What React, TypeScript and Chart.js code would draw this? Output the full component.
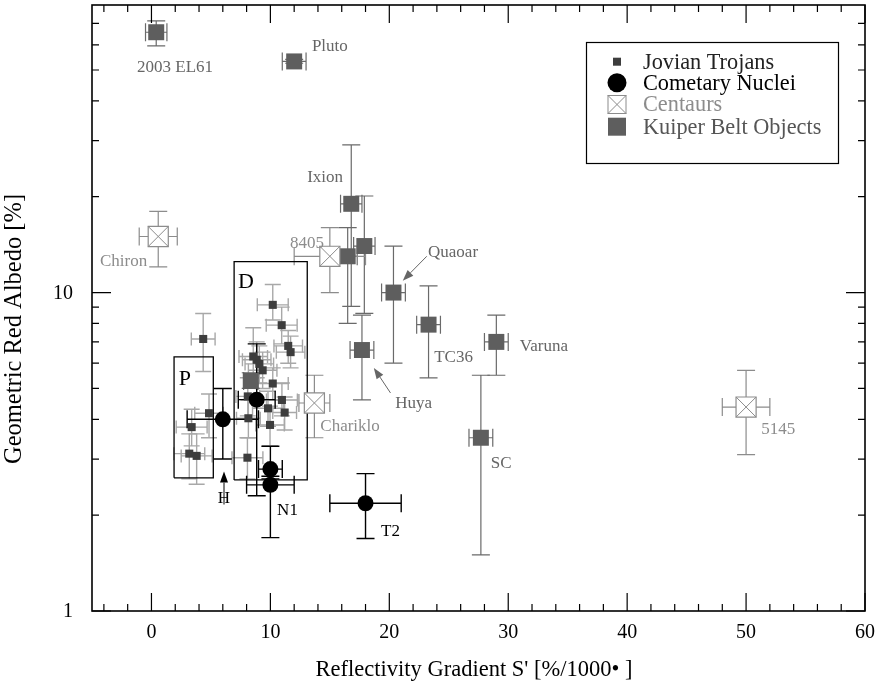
import React, { useEffect, useRef } from 'react';
import { Chart, registerables } from 'chart.js';
Chart.register(...registerables);

const FONT = '"Liberation Serif", "Times New Roman", Times, serif';

// ---------- Jovian Trojans ----------
const trojanX = [4.35, 10.2, 10.95, 11.5, 11.7, 8.56, 8.85, 9.07, 9.35, 8.1, 10.2, 10.97, 9.8, 11.2, 8.15, 9.97, 8.07, 4.84, 3.38, 3.18, 3.8];
const trojanY = [7.15, 9.15, 7.9, 6.8, 6.5, 6.3, 6.15, 5.97, 5.7, 4.72, 5.18, 4.6, 4.33, 4.2, 4.03, 3.84, 3.03, 4.18, 3.78, 3.12, 3.07];
const trojanXErr = [1.0, 1.3, 1.3, 1.2, 1.2, 1.2, 1.2, 1.2, 1.2, 1.0, 1.3, 1.3, 1.3, 1.0, 1.0, 1.2, 1.3, 1.2, 1.3, 1.3, 1.3];
const trojanYLo = [5.65, 8.2, 6.9, 6.0, 5.8, 5.4, 5.4, 5.2, 5.0, 4.1, 4.6, 4.1, 3.8, 3.7, 3.5, 3.3, 2.6, 3.5, 3.3, 2.6, 2.5];
const trojanYHi = [8.6, 10.6, 9.0, 7.6, 7.3, 7.75, 7.0, 6.8, 6.5, 5.4, 5.8, 5.2, 4.9, 4.7, 4.6, 4.4, 3.5, 4.8, 4.3, 3.6, 3.6];

// ---------- Kuiper Belt Objects ----------
const kboNames = ['2003 EL61', 'Pluto', 'Ixion', '', '', 'Quaoar', 'Huya', 'TC36', 'Varuna', 'SC', ''];
const kboX = [0.4, 12.0, 16.8, 16.5, 17.9, 20.35, 17.7, 23.3, 29.0, 27.7, 8.35];
const kboY = [65.7, 53.2, 19.0, 13.0, 14.0, 10.0, 6.6, 7.93, 7.0, 3.5, 5.28];
const kboXErr = [0.9, 1.0, 0.9, 0.8, 0.9, 1.0, 1.0, 1.0, 1.0, 1.0, 0.6];
const kboYLo = [59.5, 52.5, 9.05, 8.0, 8.6, 6.0, 4.6, 5.4, 5.5, 1.5, 5.0];
const kboYHi = [71.3, 54.0, 29.1, 16.0, 20.1, 14.0, 8.5, 10.5, 8.5, 5.5, 5.6];

// ---------- Centaurs ----------
const cenNames = ['Chiron', '8405', 'Chariklo', '5145'];
const cenX = [0.57, 15.0, 13.7, 50.0];
const cenY = [15.0, 13.0, 4.5, 4.37];
const cenXErr = [1.6, 3.0, 1.3, 2.0];
const cenYLo = [12.05, 10.0, 3.5, 3.1];
const cenYHi = [18.0, 16.0, 5.5, 5.7];

// ---------- Cometary Nuclei ----------
const cometNames = ['H', '', '', 'N1', 'T2'];
const cometX = [6.0, 8.85, 10.0, 10.0, 18.0];
const cometY = [4.0, 4.61, 2.79, 2.49, 2.18];
const cometXErr = [3.0, 1.55, 1.0, 2.0, 3.0];
const cometYLo = [3.0, 2.3, 2.6, 1.7, 1.69];
const cometYHi = [5.0, 6.9, 3.29, 2.65, 2.7];

// ---------- Boxes (P and D) ----------
const boxPX = [1.9, 5.2];
const boxPY = [2.62, 6.28];
const boxDX = [6.95, 13.1];
const boxDY = [2.58, 12.5];

// ---------- Annotations ----------
const labelText = ['2003 EL61', 'Pluto', 'Ixion', '8405', 'Chiron', 'Quaoar', 'TC36', 'Varuna', 'Huya', 'Chariklo', 'SC', 'T2', 'N1', 'H', '5145', 'P', 'D'];
const labelX = [1.98, 15.0, 14.6, 13.08, -2.35, 25.36, 25.4, 33.0, 22.05, 16.7, 29.4, 20.1, 11.44, 6.1, 52.7, 2.8, 7.95];
const labelY = [51.0, 59.4, 23.0, 14.26, 12.5, 13.4, 6.23, 6.77, 4.47, 3.79, 2.91, 1.78, 2.07, 2.26, 3.71, 5.33, 10.75];
const labelGroup = ['kbo', 'kbo', 'kbo', 'cen', 'cen', 'kbo', 'kbo', 'kbo', 'kbo', 'cen', 'kbo', 'com', 'com', 'com', 'cen', 'box', 'box'];

const arrowFromX = [23.15, 20.1, 6.1];
const arrowFromY = [13.0, 4.84, 2.16];
const arrowToX = [21.13, 18.7, 6.1];
const arrowToY = [10.9, 5.8, 2.74];
const arrowGroup = ['kbo', 'kbo', 'com'];

// ---------- Axes ----------
const xMajorTicks = [0, 10, 20, 30, 40, 50, 60];
const xMinorTicks = [-4, -2, 2, 4, 6, 8, 12, 14, 16, 18, 22, 24, 26, 28, 32, 34, 36, 38, 42, 44, 46, 48, 52, 54, 56, 58];
const yMajorTicks = [1, 10];
const yMinorTicks = [2, 3, 4, 5, 6, 7, 8, 9, 20, 30, 40, 50, 60, 70];

const legendLabels = ['Jovian Trojans', 'Cometary Nuclei', 'Centaurs', 'Kuiper Belt Objects'];

const pts = (xs: number[], ys: number[]) => xs.map((x, i) => ({ x, y: ys[i] }));
const errs = (xe: number[], lo: number[], hi: number[]) => xe.map((e, i) => ({ xm: e, lo: lo[i], hi: hi[i] }));
const boxPts = (bx: number[], by: number[]) => [
  { x: bx[0], y: by[0] }, { x: bx[1], y: by[0] }, { x: bx[1], y: by[1] }, { x: bx[0], y: by[1] }, { x: bx[0], y: by[0] },
];

const errorBarPlugin = {
  id: 'errbars',
  beforeDatasetsDraw(chart: any) {
    const { ctx, scales: { x, y } } = chart;
    ctx.save();
    const sets = [...chart.data.datasets].sort((a: any, b: any) => (b.order ?? 0) - (a.order ?? 0));
    sets.forEach((ds: any) => {
      if (!ds.errors) return;
      ctx.strokeStyle = ds.errorColor;
      ctx.lineWidth = ds.errorWidth;
      const cv = ds.capV, ch = ds.capH;
      ds.data.forEach((p: any, i: number) => {
        const e = ds.errors[i];
        const px = x.getPixelForValue(p.x), py = y.getPixelForValue(p.y);
        const xl = x.getPixelForValue(p.x - e.xm), xr = x.getPixelForValue(p.x + e.xm);
        const yl = y.getPixelForValue(e.lo), yh = y.getPixelForValue(e.hi);
        ctx.beginPath();
        ctx.moveTo(xl, py); ctx.lineTo(xr, py);
        ctx.moveTo(px, yl); ctx.lineTo(px, yh);
        ctx.moveTo(xl, py - ch); ctx.lineTo(xl, py + ch);
        ctx.moveTo(xr, py - ch); ctx.lineTo(xr, py + ch);
        ctx.moveTo(px - cv, yl); ctx.lineTo(px + cv, yl);
        ctx.moveTo(px - cv, yh); ctx.lineTo(px + cv, yh);
        ctx.stroke();
      });
    });
    ctx.restore();
  },
};

const labelColor: Record<string, string> = { kbo: '#666666', cen: '#8c8c8c', com: '#000000', box: '#000000' };

const annotationPlugin = {
  id: 'annot',
  afterDatasetsDraw(chart: any) {
    const { ctx, scales: { x, y } } = chart;
    ctx.save();
    ctx.textAlign = 'center';
    ctx.textBaseline = 'middle';
    labelText.forEach((t, i) => {
      const g = labelGroup[i];
      ctx.fillStyle = labelColor[g];
      ctx.font = `${g === 'box' ? 22 : 17}px ${FONT}`;
      ctx.fillText(t, x.getPixelForValue(labelX[i]), y.getPixelForValue(labelY[i]));
    });
    arrowFromX.forEach((fx, i) => {
      const x0 = x.getPixelForValue(fx), y0 = y.getPixelForValue(arrowFromY[i]);
      const x1 = x.getPixelForValue(arrowToX[i]), y1 = y.getPixelForValue(arrowToY[i]);
      const col = labelColor[arrowGroup[i]];
      const ang = Math.atan2(y1 - y0, x1 - x0);
      const hl = 11, hw = 4;
      const bx = x1 - hl * Math.cos(ang), by = y1 - hl * Math.sin(ang);
      ctx.strokeStyle = col; ctx.fillStyle = col; ctx.lineWidth = 1;
      ctx.beginPath(); ctx.moveTo(x0, y0); ctx.lineTo(bx, by); ctx.stroke();
      ctx.beginPath();
      ctx.moveTo(x1, y1);
      ctx.lineTo(bx + hw * Math.sin(ang), by - hw * Math.cos(ang));
      ctx.lineTo(bx - hw * Math.sin(ang), by + hw * Math.cos(ang));
      ctx.closePath(); ctx.fill();
    });
    ctx.restore();
  },
};

const framePlugin = {
  id: 'frame',
  afterDraw(chart: any) {
    const { ctx, chartArea: { left, right, top, bottom }, scales: { x, y } } = chart;
    ctx.save();
    ctx.strokeStyle = '#000';
    ctx.lineWidth = 1.2;
    ctx.beginPath();
    const xt = (v: number, len: number) => {
      const px = x.getPixelForValue(v);
      ctx.moveTo(px, bottom); ctx.lineTo(px, bottom - len);
      ctx.moveTo(px, top); ctx.lineTo(px, top + len);
    };
    const yt = (v: number, len: number) => {
      const py = y.getPixelForValue(v);
      ctx.moveTo(left, py); ctx.lineTo(left + len, py);
      ctx.moveTo(right, py); ctx.lineTo(right - len, py);
    };
    xMajorTicks.forEach((v) => xt(v, 18));
    xMinorTicks.forEach((v) => xt(v, 7));
    yMajorTicks.forEach((v) => yt(v, 19));
    yMinorTicks.forEach((v) => yt(v, 7));
    ctx.stroke();
    ctx.lineWidth = 1.6;
    ctx.strokeRect(left, top, right - left, bottom - top);

    // tick labels
    ctx.fillStyle = '#000';
    ctx.font = `20px ${FONT}`;
    ctx.textAlign = 'center';
    ctx.textBaseline = 'middle';
    xMajorTicks.forEach((v) => ctx.fillText(String(v), x.getPixelForValue(v), bottom + 22));
    ctx.textAlign = 'right';
    yMajorTicks.forEach((v) => ctx.fillText(String(v), left - 19, y.getPixelForValue(v) + 1));

    // axis titles
    ctx.font = `22.5px ${FONT}`;
    ctx.textAlign = 'center';
    ctx.fillText("Reflectivity Gradient S' [%/1000\u2022 ]", 474, 670);
    ctx.save();
    ctx.font = `24.5px ${FONT}`;
    ctx.translate(15, 329);
    ctx.rotate(-Math.PI / 2);
    ctx.fillText('Geometric Red Albedo [%]', 0, 0);
    ctx.restore();

    // legend
    const lx = 586, ly = 42, lw = 252, lh = 121;
    ctx.fillStyle = '#fff';
    ctx.fillRect(lx, ly, lw, lh);
    ctx.lineWidth = 1.2;
    ctx.strokeStyle = '#000';
    ctx.strokeRect(lx + 0.5, ly + 0.5, lw, lh);
    const rows = [61.7, 82.7, 104.5, 126.7];
    const mx = 617, tx = 643;
    const textCols = ['#222222', '#000000', '#8c8c8c', '#555555'];
    ctx.font = `22.3px ${FONT}`;
    ctx.textAlign = 'left';
    legendLabels.forEach((t, i) => {
      const ry = rows[i];
      if (i === 0) { ctx.fillStyle = '#3d3d3d'; ctx.fillRect(mx - 4, ry - 4, 8, 8); }
      if (i === 1) { ctx.fillStyle = '#000'; ctx.beginPath(); ctx.arc(mx, ry, 9.5, 0, Math.PI * 2); ctx.fill(); }
      if (i === 2) {
        ctx.strokeStyle = '#8c8c8c'; ctx.lineWidth = 1;
        ctx.strokeRect(mx - 9, ry - 9, 18, 18);
        ctx.beginPath(); ctx.moveTo(mx - 9, ry - 9); ctx.lineTo(mx + 9, ry + 9); ctx.moveTo(mx + 9, ry - 9); ctx.lineTo(mx - 9, ry + 9); ctx.stroke();
      }
      if (i === 3) { ctx.fillStyle = '#5e5e5e'; ctx.fillRect(mx - 9, ry - 9, 18, 18); }
      ctx.fillStyle = textCols[i];
      ctx.fillText(t, tx, ry + 1);
    });
    ctx.restore();
  },
};

export default function App() {
  const ref = useRef<HTMLCanvasElement>(null);
  useEffect(() => {
    const canvas = ref.current!;
    const chart = new Chart(canvas, {
      type: 'scatter',
      data: {
        datasets: [
          {
            label: 'Cometary Nuclei', data: pts(cometX, cometY), pointStyle: 'circle', pointRadius: 8,
            backgroundColor: '#000', borderColor: '#000', borderWidth: 0, order: 0,
            errors: errs(cometXErr, cometYLo, cometYHi), errorColor: '#000', errorWidth: 1.4, capV: 9, capH: 9,
          } as any,
          {
            label: 'Centaurs X', data: pts(cenX, cenY), pointStyle: 'crossRot', pointRadius: 14.2,
            borderColor: '#8c8c8c', backgroundColor: '#8c8c8c', borderWidth: 1, order: 1,
          } as any,
          {
            label: 'Centaurs', data: pts(cenX, cenY), pointStyle: 'rect', pointRadius: 14.2,
            backgroundColor: '#fff', borderColor: '#8c8c8c', borderWidth: 1.2, order: 2,
            errors: errs(cenXErr, cenYLo, cenYHi), errorColor: '#8c8c8c', errorWidth: 1.2, capV: 9, capH: 9,
          } as any,
          {
            label: 'Kuiper Belt Objects', data: pts(kboX, kboY), pointStyle: 'rect', pointRadius: 11.3,
            backgroundColor: '#5e5e5e', borderColor: '#5e5e5e', borderWidth: 0, order: 3,
            errors: errs(kboXErr, kboYLo, kboYHi), errorColor: '#6a6a6a', errorWidth: 1.2, capV: 9, capH: 9,
          } as any,
          {
            label: 'Jovian Trojans', data: pts(trojanX, trojanY), pointStyle: 'rect', pointRadius: 5.7,
            backgroundColor: '#3d3d3d', borderColor: '#3d3d3d', borderWidth: 0, order: 4,
            errors: errs(trojanXErr, trojanYLo, trojanYHi), errorColor: '#a8a8a8', errorWidth: 1.4, capV: 8, capH: 6.5,
          } as any,
          {
            label: 'P', data: boxPts(boxPX, boxPY), showLine: true, pointRadius: 0,
            borderColor: '#000', borderWidth: 1.3, fill: false, order: 5,
          } as any,
          {
            label: 'D', data: boxPts(boxDX, boxDY), showLine: true, pointRadius: 0,
            borderColor: '#000', borderWidth: 1.3, fill: false, order: 6,
          } as any,
        ],
      },
      options: {
        responsive: false,
        animation: false,
        events: [],
        layout: { autoPadding: false, padding: { top: 5, right: 18, left: 0, bottom: 0 } },
        plugins: { legend: { display: false }, tooltip: { enabled: false } },
        scales: {
          x: {
            type: 'linear', min: -5, max: 60,
            grid: { display: false, drawTicks: false },
            border: { display: false },
            afterFit: (s: any) => { s.height = 78; s.paddingLeft = 0; s.paddingRight = 0; },
            ticks: { display: false },
          },
          y: {
            type: 'logarithmic', min: 1, max: 80,
            grid: { display: false, drawTicks: false },
            border: { display: false },
            afterFit: (s: any) => { s.width = 92; s.paddingTop = 0; s.paddingBottom = 0; },
            ticks: { display: false },
          },
        },
      } as any,
      plugins: [errorBarPlugin, annotationPlugin, framePlugin],
    });
    return () => chart.destroy();
  }, []);
  return (
    <div style={{ position: 'absolute', left: 0, top: 0, width: 883, height: 689, background: '#fff' }}>
      <canvas ref={ref} width={883} height={689} style={{ display: 'block', width: 883, height: 689 }} />
    </div>
  );
}
